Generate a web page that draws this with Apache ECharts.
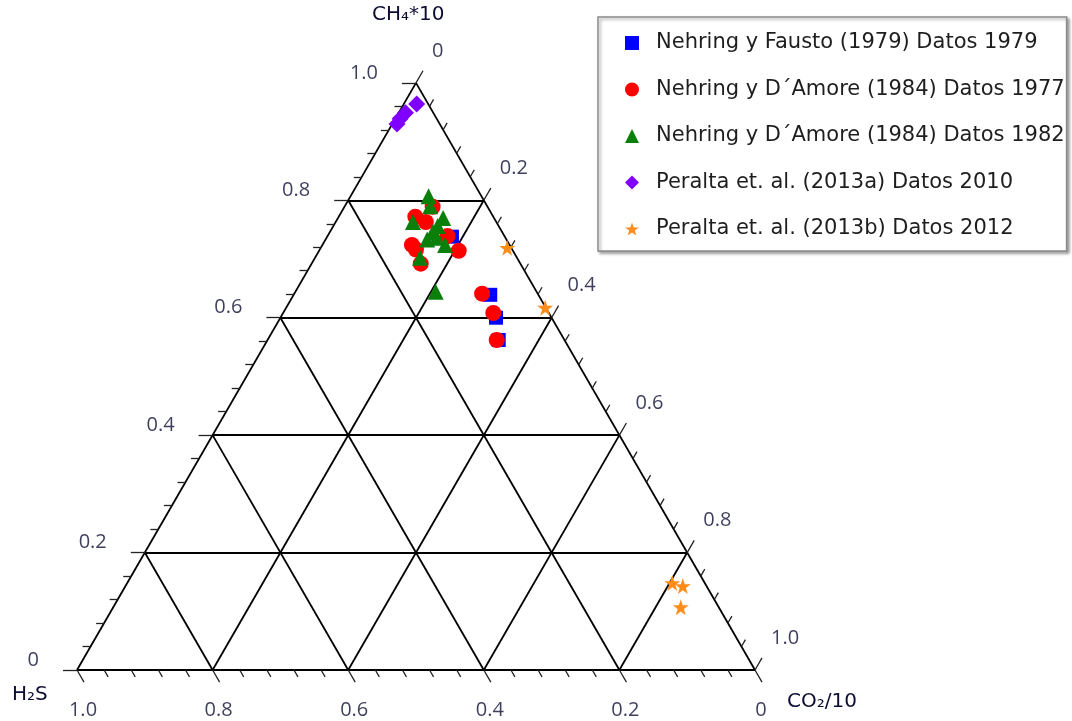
<!DOCTYPE html>
<html>
<head>
<meta charset="utf-8">
<script src="https://cdn.jsdelivr.net/npm/echarts@6/dist/echarts.min.js"></script>
<style>
  html, body { margin: 0; padding: 0; background: #fff; }
  #main { width: 1072px; height: 721px; }
</style>
</head>
<body>
<div id="main"></div>
<script>
// ternary data, each point is [CH4*10, CO2/10] fraction, H2S = 1 - CH4 - CO2
var fausto1979 = [[0.738, 0.184], [0.639, 0.290], [0.600, 0.318], [0.562, 0.341]];
var amore1977 = [
  [0.789, 0.130], [0.772, 0.113], [0.763, 0.133], [0.739, 0.177], [0.724, 0.132],
  [0.716, 0.142], [0.714, 0.206], [0.692, 0.161], [0.641, 0.277], [0.608, 0.310],
  [0.562, 0.338]
];
var amore1982 = [
  [0.807, 0.115], [0.790, 0.126], [0.763, 0.114], [0.770, 0.155], [0.756, 0.154],
  [0.746, 0.152], [0.733, 0.150], [0.736, 0.163], [0.724, 0.181], [0.702, 0.155],
  [0.644, 0.207]
];
var peralta2010 = [[0.964, 0.019], [0.949, 0.010], [0.939, 0.007], [0.930, 0.007]];
var peralta2012 = [[0.719, 0.275], [0.617, 0.382], [0.148, 0.804], [0.143, 0.822], [0.107, 0.837]];

var seriesNames = [
  'Nehring y Fausto (1979) Datos 1979',
  'Nehring y D\u00B4Amore (1984) Datos 1977',
  'Nehring y D\u00B4Amore (1984) Datos 1982',
  'Peralta et. al. (2013a) Datos 2010',
  'Peralta et. al. (2013b) Datos 2012'
];

var majorTicks = [0, 0.2, 0.4, 0.6, 0.8, 1.0];
var ch4Labels = ['0', '0.2', '0.4', '0.6', '0.8', '1.0'];
var co2Labels = ['0', '0.2', '0.4', '0.6', '0.8', '1.0'];
var h2sLabels = ['0', '0.2', '0.4', '0.6', '0.8', '1.0'];

var S3 = Math.sqrt(3) / 2;
var PX = 678; // pixels per unit side
function toXY(ch4, co2) { return [co2 + ch4 / 2, ch4 * S3]; }

function pts(arr) {
  return arr.map(function (p) { return toXY(p[0], p[1]); });
}

// grid lines & ticks
var segs = [];
var A = toXY(0, 0), B = toXY(0, 1), C = toXY(1, 0);
segs.push([A, B], [B, C], [C, A]);
[0.2, 0.4, 0.6, 0.8].forEach(function (v) {
  segs.push([toXY(v, 0), toXY(v, 1 - v)]);          // const CH4
  segs.push([toXY(0, v), toXY(1 - v, v)]);          // const CO2
  segs.push([toXY(0, 1 - v), toXY(1 - v, 0)]);      // const H2S
});
var tickSegs = [];
function addTick(p, d, len) {
  tickSegs.push([p, [p[0] + d[0] * len / PX, p[1] + d[1] * len / PX]]);
}
for (var i = 0; i <= 25; i++) {
  var v = i * 0.04;
  var major = (i % 5 === 0);
  var len = major ? 14 : 8;
  addTick(toXY(v, 0), [-1, 0], len);               // left: CH4
  addTick(toXY(1 - v, v), [0.5, S3], len);         // right: CO2
  addTick(toXY(0, 1 - v), [0.5, -S3], len);        // bottom: H2S
}

var labelFont = { fontFamily: 'Open Sans', fontSize: 20, color: '#0d0d33' };
function labelSeries(list, fn, pos, align) {
  return {
    type: 'scatter', symbolSize: 0, silent: true, z: 5,
    data: majorTicks.map(function (v, k) { return { name: list[k], value: fn(v) }; }),
    label: Object.assign({
      show: true, position: pos, align: align, verticalAlign: 'middle',
      formatter: function (p) { return p.name; }
    }, labelFont)
  };
}

var starPath = 'path://M50,0 L61.8,35.4 L99,35.4 L69,57.3 L80.4,92.7 L50,70.8 L19.6,92.7 L31,57.3 L1,35.4 L38.2,35.4 Z';

var myChart = echarts.init(document.getElementById('main'), null, { renderer: 'canvas' });
var option = {
  animation: false,
  backgroundColor: '#fff',
  grid: { left: 0, right: 0, top: 0, bottom: 0 },
  xAxis: { type: 'value', min: -77 / PX, max: 995 / PX, show: false },
  yAxis: { type: 'value', min: -51 / PX, max: 670 / PX, show: false },
  legend: {
    orient: 'vertical', left: 598, top: 17,
    padding: [15, 2, 11, 27],
    itemWidth: 14, itemHeight: 14, itemGap: 24.5,
    borderColor: '#8a8a8a', borderWidth: 1.5, backgroundColor: '#fff',
    shadowColor: 'rgba(0,0,0,0.35)', shadowBlur: 3, shadowOffsetX: 2, shadowOffsetY: 2,
    textStyle: { fontFamily: 'DejaVu Sans', fontSize: 21, lineHeight: 22, color: '#1e1e1e', padding: [0, 0, 0, 12] },
    data: seriesNames
  },
  graphic: [
    { type: 'text', left: 372, top: 5, style: { text: 'CH\u2084*10', font: '20px "DejaVu Sans"', fill: '#0d0d33' } },
    { type: 'text', left: 12, top: 685, style: { text: 'H\u2082S', font: '20px "DejaVu Sans"', fill: '#0d0d33' } },
    { type: 'text', left: 787, top: 692, style: { text: 'CO\u2082/10', font: '20px "DejaVu Sans"', fill: '#0d0d33' } }
  ],
  series: [
    {
      type: 'lines', coordinateSystem: 'cartesian2d', silent: true, z: 1,
      lineStyle: { color: '#000', width: 1.8, opacity: 1 },
      data: segs.map(function (s) { return { coords: s }; })
    },
    {
      type: 'lines', coordinateSystem: 'cartesian2d', silent: true, z: 1,
      lineStyle: { color: '#222', width: 1.3, opacity: 1 },
      data: tickSegs.map(function (s) { return { coords: s }; })
    },
    labelSeries(ch4Labels, function (v) { return toXY(v, 0); }, [-38, -10], 'right'),
    labelSeries(co2Labels, function (v) { return toXY(1 - v, v); }, [16, -32], 'left'),
    labelSeries(h2sLabels, function (v) { return toXY(0, 1 - v); }, [6, 40], 'center'),
    { name: seriesNames[0], type: 'scatter', symbol: 'rect', symbolSize: 14, z: 10,
      itemStyle: { color: '#0000ff', opacity: 1 }, data: pts(fausto1979) },
    { name: seriesNames[1], type: 'scatter', symbol: 'circle', symbolSize: 16, z: 11,
      itemStyle: { color: '#ff0000', opacity: 1 }, data: pts(amore1977) },
    { name: seriesNames[2], type: 'scatter', symbol: 'triangle', symbolSize: 16, z: 12,
      itemStyle: { color: '#0a7f0a', opacity: 1 }, data: pts(amore1982) },
    { name: seriesNames[3], type: 'scatter', symbol: 'diamond', symbolSize: 17, z: 13,
      itemStyle: { color: '#7f00ff', opacity: 1 }, data: pts(peralta2010) },
    { name: seriesNames[4], type: 'scatter', symbol: starPath, symbolSize: 16, z: 14,
      itemStyle: { color: '#ff8c1a', opacity: 1 }, data: pts(peralta2012) }
  ]
};
myChart.setOption(option);
</script>
</body>
</html>
